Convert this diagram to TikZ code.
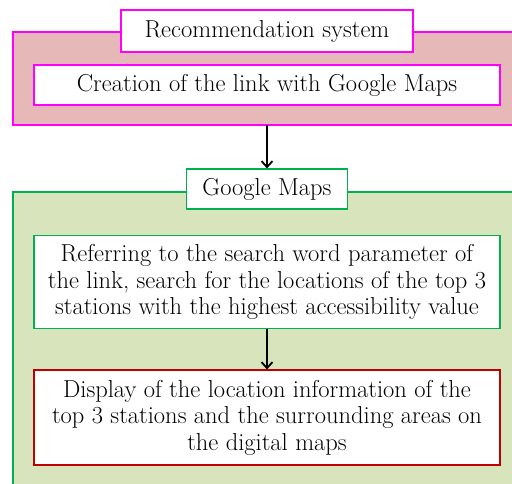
\documentclass[tikz,border=0pt]{standalone}
\usetikzlibrary{arrows.meta}
\definecolor{pinkfill}{HTML}{E6B8B7}
\definecolor{magentaline}{HTML}{FF00FF}
\definecolor{greenfill}{HTML}{D8E4BC}
\definecolor{greenline}{HTML}{00B050}
\definecolor{redline}{HTML}{C00000}
\begin{document}
\begin{tikzpicture}[x=1pt,y=-1pt,
  txt/.style={font=\fontsize{24.5}{26.5}\selectfont, align=center},
  wbox/.style={draw, fill=white, line width=1.2pt, inner sep=0pt},
  arr/.style={-{Straight Barb[length=6pt,width=11pt]}, line width=1.8pt, black}]
\useasboundingbox (0,0) rectangle (512,484);
% outer panels
\draw[fill=pinkfill, draw=magentaline, line width=1.2pt] (13,32) rectangle (520,125);
\draw[fill=greenfill, draw=greenline, line width=1.2pt] (13,192) rectangle (520,500);
% boxes
\node[wbox, draw=magentaline, minimum width=292pt, minimum height=42pt, txt] (rec) at (267,31) {Recommendation system};
\node[wbox, draw=magentaline, minimum width=466pt, minimum height=40pt, txt] (cre) at (267,85) {Creation of the link with Google Maps};
\node[wbox, draw=greenline, minimum width=161pt, minimum height=40pt, txt] (gm) at (267,189) {Google Maps};
\node[wbox, draw=greenline, minimum width=466pt, minimum height=93pt, txt] (ref) at (267,282) {Referring to the search word parameter of\\the link, search for the locations of the top 3\\stations with the highest accessibility value};
\node[wbox, draw=redline, minimum width=466pt, minimum height=95pt, txt] (dis) at (267,417.5) {Display of the location information of the\\top 3 stations and the surrounding areas on\\the digital maps};
\coordinate (top1) at (267,125);
\draw[arr] (top1) -- (gm.north);
\draw[arr] (ref.south) -- (dis.north);
\end{tikzpicture}
\end{document}
